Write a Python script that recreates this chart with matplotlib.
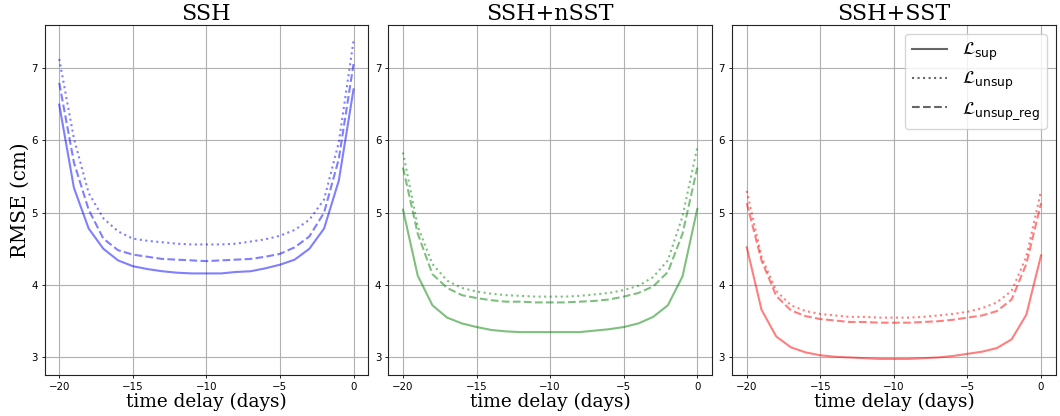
import numpy as np
import matplotlib
matplotlib.use("Agg")
import matplotlib.pyplot as plt
from matplotlib.lines import Line2D

days = list(range(-20, 1))
titles = ["SSH", "SSH+nSST", "SSH+SST"]
colors = ["blue", "green", "red"]

ssh_sup = [6.49, 5.34, 4.78, 4.50, 4.34, 4.26, 4.22, 4.19, 4.17, 4.16, 4.16,
           4.16, 4.18, 4.19, 4.23, 4.28, 4.35, 4.50, 4.78, 5.44, 6.70]
ssh_unsup = [7.12, 6.02, 5.27, 4.92, 4.74, 4.64, 4.61, 4.59, 4.57, 4.56, 4.56,
             4.56, 4.57, 4.60, 4.63, 4.68, 4.76, 4.90, 5.18, 5.97, 7.37]
ssh_reg = [6.79, 5.69, 5.04, 4.64, 4.48, 4.42, 4.39, 4.36, 4.35, 4.34, 4.33,
           4.34, 4.35, 4.36, 4.39, 4.43, 4.52, 4.67, 5.00, 5.74, 7.05]

nsst_sup = [5.04, 4.13, 3.72, 3.55, 3.47, 3.42, 3.38, 3.36, 3.35, 3.35, 3.35,
            3.35, 3.35, 3.37, 3.39, 3.42, 3.47, 3.56, 3.72, 4.12, 5.05]
nsst_unsup = [5.83, 4.81, 4.29, 4.06, 3.96, 3.91, 3.88, 3.86, 3.85, 3.84, 3.84,
              3.84, 3.85, 3.87, 3.89, 3.93, 3.99, 4.11, 4.34, 4.95, 5.90]
nsst_reg = [5.62, 4.71, 4.15, 3.96, 3.86, 3.82, 3.79, 3.77, 3.77, 3.76, 3.76,
            3.76, 3.77, 3.78, 3.80, 3.84, 3.89, 3.98, 4.18, 4.71, 5.62]

sst_sup = [4.52, 3.66, 3.29, 3.14, 3.07, 3.03, 3.01, 3.00, 2.99, 2.98, 2.98,
           2.98, 2.99, 3.00, 3.02, 3.05, 3.08, 3.13, 3.25, 3.59, 4.41]
sst_unsup = [5.30, 4.39, 3.92, 3.72, 3.64, 3.60, 3.58, 3.56, 3.56, 3.55, 3.55,
             3.55, 3.56, 3.58, 3.60, 3.63, 3.68, 3.76, 3.92, 4.39, 5.30]
sst_reg = [5.13, 4.34, 3.85, 3.65, 3.57, 3.53, 3.51, 3.49, 3.49, 3.48, 3.48,
           3.48, 3.49, 3.50, 3.52, 3.55, 3.58, 3.64, 3.80, 4.29, 5.13]

series = [
    (ssh_sup, ssh_unsup, ssh_reg),
    (nsst_sup, nsst_unsup, nsst_reg),
    (sst_sup, sst_unsup, sst_reg),
]
legend_labels = [r"$\mathcal{L}_{\mathrm{sup}}$",
                 r"$\mathcal{L}_{\mathrm{unsup}}$",
                 r"$\mathcal{L}_{\mathrm{unsup\_reg}}$"]
styles = ["-", ":", "--"]

fig, axes = plt.subplots(1, 3, figsize=(10.6, 4.16), dpi=100, sharey=True)
fig.subplots_adjust(left=0.042, right=0.996, top=0.94, bottom=0.099, wspace=0.062)

for ax, title, col, data in zip(axes, titles, colors, series):
    for vals, ls in zip(data, styles):
        ax.plot(days, vals, ls, color=col, alpha=0.5, lw=1.5)
    ax.set_title(title, family="DejaVu Serif", fontsize=16, pad=3)
    ax.set_xlabel("time delay (days)", family="DejaVu Serif", fontsize=13.3, labelpad=0.5)
    ax.grid(True, color="#b0b0b0", lw=0.8)
    ax.set_axisbelow(True)
    ax.yaxis.set_tick_params(labelleft=True)
    ax.tick_params(labelsize=7.4, length=2.5, width=0.6, pad=2.5)
    ax.set_xticks([-20, -15, -10, -5, 0])
    ax.set_yticks([3, 4, 5, 6, 7])
    for s in ax.spines.values():
        s.set_color("#222222")
        s.set_linewidth(0.8)

axes[0].set_ylabel("RMSE (cm)", family="DejaVu Serif", fontsize=14.3, labelpad=1)

handles = [Line2D([], [], color="black", alpha=0.6, lw=1.5, ls=ls) for ls in styles]
axes[2].legend(handles, legend_labels, loc="upper right", fontsize=12.8,
               labelspacing=0.4)

fig.savefig("out.png", dpi=100)
